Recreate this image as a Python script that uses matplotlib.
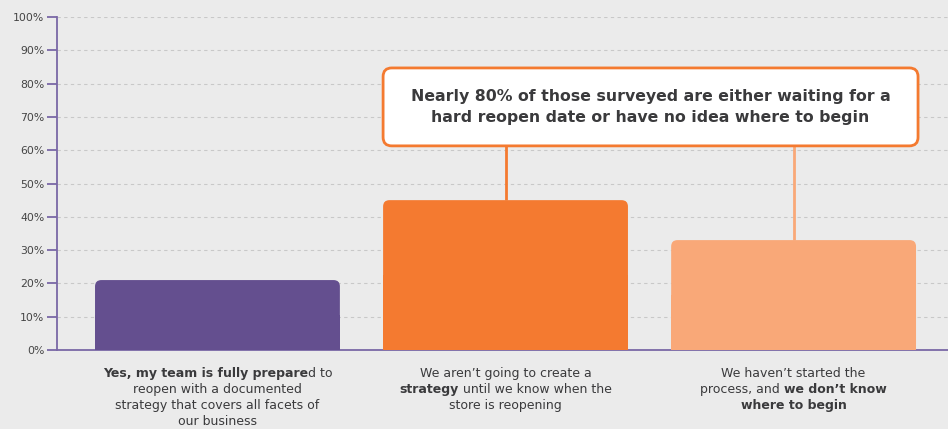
import matplotlib
matplotlib.use("Agg")
import matplotlib.pyplot as plt
from matplotlib.patches import FancyBboxPatch, Rectangle
from matplotlib.offsetbox import TextArea, HPacker, VPacker, AnnotationBbox

plt.rcParams['font.family'] = ['DejaVu Sans']

# data
categories = ['prepared', 'waiting', 'no idea']
values = [21, 45, 33]
bar_colors = ['#644f8f', '#f47a30', '#f9a878']
yticks = [0, 10, 20, 30, 40, 50, 60, 70, 80, 90, 100]
ytick_labels = [f'{v}%' for v in yticks]

# each label: list of lines, each line a list of (text, bold)
labels = [
    [[('Yes, my team is fully prepare', True), ('d to', False)],
     [('reopen with a documented', False)],
     [('strategy that covers all facets of', False)],
     [('our business', False)]],
    [[('We aren\u2019t going to create a', False)],
     [('strategy', True), (' until we know when the', False)],
     [('store is reopening', False)]],
    [[('We haven\u2019t started the', False)],
     [('process, and ', False), ('we don\u2019t know', True)],
     [('where to begin', True)]],
]
callout = 'Nearly 80% of those surveyed are either waiting for a\nhard reopen date or have no idea where to begin'

bg = '#ebebeb'
axis_col = '#7a68a6'
text_col = '#3a3a3c'

fig = plt.figure(figsize=(9.48, 4.29), dpi=100, facecolor=bg)
ax = fig.add_axes([57/948, 79/429, 891/948, 333/429])
ax.set_facecolor(bg)
ax.set_xlim(-0.557, 2.536)
ax.set_ylim(0, 100)

# aspect for rounded corners: data units per pixel in y vs x
asp = (100/333) / (3.093/891)

ax.set_yticks(yticks)
ax.set_yticklabels(ytick_labels, fontsize=7.8, color='#444444')
ax.tick_params(axis='y', length=7, width=1.3, color=axis_col, pad=2)
ax.set_xticks([])
for s in ['top', 'right']:
    ax.spines[s].set_visible(False)
ax.spines['left'].set_color(axis_col)
ax.spines['left'].set_linewidth(1.3)
ax.spines['bottom'].set_color(axis_col)
ax.spines['bottom'].set_linewidth(1.3)
ax.grid(axis='y', color='#c8c8c8', linestyle=(0, (3, 3)), linewidth=0.8)
ax.set_axisbelow(True)

bw = 0.85
for i, (v, c) in enumerate(zip(values, bar_colors)):
    p = FancyBboxPatch((i - bw/2, 0), bw, v, boxstyle='round,pad=0,rounding_size=0.022',
                       mutation_aspect=asp, facecolor=c, edgecolor='none', zorder=3)
    ax.add_patch(p)
    ax.add_patch(Rectangle((i - bw/2, 0), bw, v/2, facecolor=c, edgecolor='none', zorder=3))

# callout box and connectors
bx0, bx1 = 0.575, 2.432
by0, by1 = 61.3, 84.7
ax.plot([1, 1], [values[1], by0], color=bar_colors[1], lw=2, zorder=2, solid_capstyle='butt')
ax.plot([2, 2], [values[2], by0], color=bar_colors[2], lw=2, zorder=2, solid_capstyle='butt')
box = FancyBboxPatch((bx0, by0), bx1 - bx0, by1 - by0, boxstyle='round,pad=0,rounding_size=0.03',
                     mutation_aspect=asp, facecolor='white', edgecolor='#f47a30', lw=2, zorder=4)
ax.add_patch(box)
ax.text((bx0 + bx1)/2, (by0 + by1)/2, callout, ha='center', va='center', fontsize=11.3,
        fontweight='bold', color=text_col, linespacing=1.45, zorder=5)

# category labels with mixed weights
for i, lab in enumerate(labels):
    lines = []
    for line in lab:
        parts = [TextArea(t, textprops=dict(fontsize=9, color=text_col,
                                            fontweight='bold' if b else 'normal'))
                 for t, b in line]
        lines.append(HPacker(children=parts, align='baseline', pad=0, sep=0))
    vb = VPacker(children=lines, align='center', pad=0, sep=2.2)
    ab = AnnotationBbox(vb, (i, 0), xybox=(0, -12), xycoords='data', boxcoords='offset points',
                        box_alignment=(0.5, 1), frameon=False, annotation_clip=False)
    ax.add_artist(ab)

fig.savefig('out.png', dpi=100, facecolor=bg)
